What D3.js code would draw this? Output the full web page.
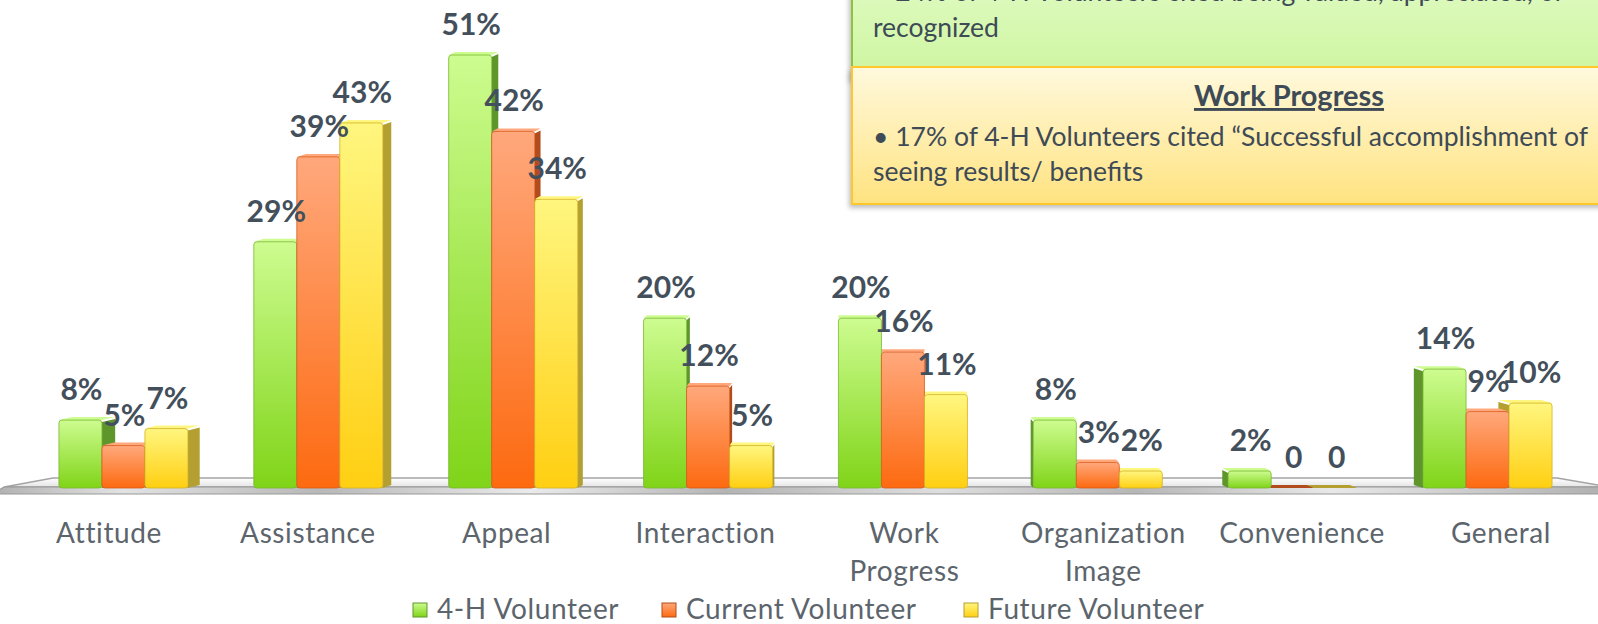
<!DOCTYPE html>
<html>
<head>
<meta charset="utf-8">
<script src="https://cdnjs.cloudflare.com/ajax/libs/d3/7.8.5/d3.min.js"></script>
<style>
    body { margin: 0; background: #fff; }
    svg { display: block; font-family: Lato, 'Open Sans', sans-serif; }
</style>
</head>
<body>
<svg id="chart"></svg>
<script>
const categories = ['Attitude', 'Assistance', 'Appeal', 'Interaction', 'Work Progress', 'Organization Image', 'Convenience', 'General'];
const seriesNames = ['4-H Volunteer', 'Current Volunteer', 'Future Volunteer'];
const volunteer4H = [8, 29, 51, 20, 20, 8, 2, 14];
const currentVolunteer = [5, 39, 42, 12, 16, 3, 0, 9];
const futureVolunteer = [7, 43, 34, 5, 11, 2, 0, 10];

const valuedNote = ['\u2022 24% of 4-H Volunteers cited being valued, appreciated, or', 'recognized'];
const progressTitle = 'Work Progress';
const progressNote = ['\u2022 17% of 4-H Volunteers cited \u201cSuccessful accomplishment of', 'seeing results/ benefits'];

const width = 1598;
const height = 624;
const baseY = 488;
const vanishX = 880; // px, perspective centre for the bar sides
const depthK = 0.017;
const depthY = 3;

const palette = [
    { light: '#cdfc90', dark: '#80d418', side: '#5e962c', edge: '#78b830' },
    { light: '#ffa87c', dark: '#fd6a10', side: '#b24c1c', edge: '#d85a1a' },
    { light: '#fff67f', dark: '#ffcf12', side: '#b3a030', edge: '#d2b222' }
];

const values = [volunteer4H, currentVolunteer, futureVolunteer];

const svg = d3.select('#chart')
    .attr('width', width)
    .attr('height', height);

const defs = svg.append('defs');

palette.forEach(function(p, i) {
    const g = defs.append('linearGradient')
        .attr('id', 'bar' + i)
        .attr('x1', 0).attr('y1', 0).attr('x2', 0).attr('y2', 1);
    g.append('stop').attr('offset', 0).attr('stop-color', p.light);
    g.append('stop').attr('offset', 1).attr('stop-color', p.dark);
});

function vGrad(id, top, bottom) {
    const g = defs.append('linearGradient')
        .attr('id', id)
        .attr('x1', 0).attr('y1', 0).attr('x2', 0).attr('y2', 1);
    g.append('stop').attr('offset', 0).attr('stop-color', top);
    g.append('stop').attr('offset', 1).attr('stop-color', bottom);
}
vGrad('greenBox', '#e6fdcf', '#cdf59f');
vGrad('yellowBox', '#fff9dd', '#ffe380');
vGrad('floorTop', '#ffffff', '#e4e4e4');

const streak = defs.append('linearGradient').attr('id', 'floorFront');
[[0, '#b0b0b0'], [0.08, '#e2e2e2'], [0.2, '#b8b8b8'], [0.33, '#eaeaea'], [0.45, '#b4b4b4'],
 [0.58, '#dedede'], [0.7, '#b6b6b6'], [0.82, '#e8e8e8'], [1, '#acacac']].forEach(function(s) {
    streak.append('stop').attr('offset', s[0]).attr('stop-color', s[1]);
});

const shadow = defs.append('filter').attr('id', 'shadow')
    .attr('x', '-5%').attr('y', '-20%').attr('width', '110%').attr('height', '140%');
shadow.append('feGaussianBlur').attr('stdDeviation', 2.5);

// callouts, top right
function callout(y, h, fill, stroke) {
    svg.append('rect')
        .attr('x', 849).attr('y', y + 4)
        .attr('width', 820).attr('height', h)
        .attr('fill', '#8a8a8a').attr('opacity', 0.55)
        .attr('filter', 'url(#shadow)');
    svg.append('rect')
        .attr('x', 852).attr('y', y)
        .attr('width', 820).attr('height', h)
        .attr('fill', fill)
        .attr('stroke', stroke)
        .attr('stroke-width', 2);
}
callout(-60, 139, 'url(#greenBox)', '#8cc43c');
callout(67, 137, 'url(#yellowBox)', '#ffc72c');

const noteColor = '#3e4a56';
svg.append('g').selectAll('text')
    .data(valuedNote)
    .join('text')
    .attr('x', 873)
    .attr('y', (d, i) => 1 + i * 36)
    .attr('font-size', 26.5)
    .attr('fill', noteColor)
    .text(d => d);

svg.append('text')
    .attr('x', 1289).attr('y', 106)
    .attr('text-anchor', 'middle')
    .attr('font-size', 29)
    .attr('font-weight', 'bold')
    .attr('text-decoration', 'underline')
    .attr('fill', noteColor)
    .text(progressTitle);

svg.append('g').selectAll('text')
    .data(progressNote)
    .join('text')
    .attr('x', 873)
    .attr('y', (d, i) => 146 + i * 35)
    .attr('font-size', 26.5)
    .attr('fill', noteColor)
    .text(d => d);

// scales
const x = d3.scaleBand()
    .domain(categories)
    .range([26, 1585])
    .paddingInner(0.338)
    .paddingOuter(0.169);

const xSeries = d3.scaleBand()
    .domain(seriesNames)
    .range([0, x.bandwidth()]);

const y = d3.scaleLinear()
    .domain([0, 51])
    .range([baseY, 55]);

const xLabel = d3.scalePoint()
    .domain(categories)
    .range([109, 1501]);

// floor
const floor = svg.append('g');
floor.append('polygon')
    .attr('points', [[53, 478], [1557, 478], [1610, 487], [4, 487]].join(' '))
    .attr('fill', 'url(#floorTop)')
    .attr('stroke', '#a4a4a4')
    .attr('stroke-width', 1.5);
floor.append('polygon')
    .attr('points', [[4, 487], [1610, 487], [1625, 494], [-8, 494]].join(' '))
    .attr('fill', 'url(#floorFront)')
    .attr('stroke', '#989898')
    .attr('stroke-width', 1.2);

// bars
const bars = [];
categories.forEach(function(c, ci) {
    seriesNames.forEach(function(s, si) {
        const x0 = x(c) + xSeries(s);
        const x1 = x0 + xSeries.bandwidth();
        const v = values[si][ci];
        const mid = (x0 + x1) / 2;
        const edge = mid < vanishX ? x1 : x0;
        bars.push({
            cat: c, si: si, v: v, x0: x0, x1: x1,
            top: y(v), dx: (vanishX - edge) * depthK, edge: edge
        });
    });
});

const barG = svg.append('g');

barG.selectAll('.side')
    .data(bars.filter(d => d.v > 0))
    .join('polygon')
    .attr('class', 'side')
    .attr('points', d => [[d.edge, d.top + 2], [d.edge + d.dx, d.top - depthY + 2],
        [d.edge + d.dx, baseY - depthY], [d.edge, baseY]].join(' '))
    .attr('fill', d => palette[d.si].side);

barG.selectAll('.cap')
    .data(bars)
    .join('polygon')
    .attr('class', 'cap')
    .attr('points', d => [[d.x0, d.top], [d.x1, d.top], [d.x1 + d.dx, d.top - depthY],
        [d.x0 + d.dx, d.top - depthY]].join(' '))
    .attr('fill', d => d.v > 0 ? palette[d.si].light : palette[d.si].side);

barG.selectAll('.front')
    .data(bars.filter(d => d.v > 0))
    .join('rect')
    .attr('class', 'front')
    .attr('x', d => d.x0)
    .attr('y', d => d.top)
    .attr('width', d => d.x1 - d.x0)
    .attr('height', d => baseY - d.top)
    .attr('rx', 3)
    .attr('fill', d => 'url(#bar' + d.si + ')')
    .attr('stroke', d => palette[d.si].edge)
    .attr('stroke-width', 0.8);

// value labels
svg.append('g').selectAll('text')
    .data(bars)
    .join('text')
    .attr('x', d => (d.x0 + d.x1) / 2 + 1)
    .attr('y', d => d.top - 20)
    .attr('text-anchor', 'middle')
    .attr('font-size', 30)
    .attr('font-weight', 'bold')
    .attr('fill', '#434f5b')
    .text(d => d.v === 0 ? '0' : d.v + '%');

// category labels
const catG = svg.append('g')
    .selectAll('text')
    .data(categories)
    .join('text')
    .attr('x', d => xLabel(d))
    .attr('y', 543)
    .attr('text-anchor', 'middle')
    .attr('font-size', 28)
    .attr('letter-spacing', 0.6)
    .attr('fill', '#5c646c');

catG.selectAll('tspan')
    .data(d => d.split(' '))
    .join('tspan')
    .attr('x', function() { return xLabel(d3.select(this.parentNode).datum()); })
    .attr('dy', (d, i) => i === 0 ? 0 : 38)
    .text(d => d);

// legend
const legendX = [413, 662, 964];
const legend = svg.append('g')
    .selectAll('g')
    .data(seriesNames)
    .join('g')
    .attr('transform', (d, i) => 'translate(' + legendX[i] + ',603)');

legend.append('rect')
    .attr('width', 14).attr('height', 14)
    .attr('fill', (d, i) => 'url(#bar' + i + ')')
    .attr('stroke', (d, i) => palette[i].side)
    .attr('stroke-width', 1);

legend.append('text')
    .attr('x', 24)
    .attr('y', 16)
    .attr('font-size', 28)
    .attr('letter-spacing', 0.6)
    .attr('fill', '#5c646c')
    .text(d => d);
</script>
</body>
</html>
